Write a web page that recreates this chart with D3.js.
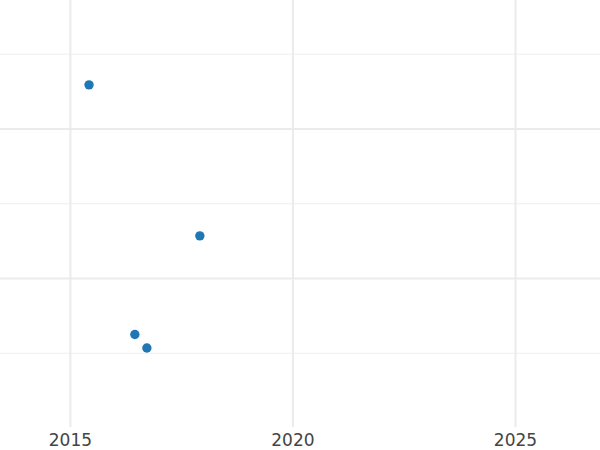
<!DOCTYPE html>
<html>
<head>
<meta charset="utf-8">
<script src="https://cdn.jsdelivr.net/npm/d3@7"></script>
<style>
  body { margin: 0; background: #fff; }
  svg { display: block; font-family: "DejaVu Sans", sans-serif; }
</style>
</head>
<body>
<div id="chart"></div>
<script>
// data (y axis has no labels, so units are arbitrary)
var years = [2015.43, 2017.92, 2016.46, 2016.73];
var values = [4.59, 2.57, 1.25, 1.07];
var xTicks = [2015, 2020, 2025];
var yMajor = [2, 4];
var yMinor = [1, 3, 5];

var width = 600, height = 450;
var svg = d3.select("#chart").append("svg")
    .attr("width", width)
    .attr("height", height);

var x = d3.scaleLinear().domain([2013.43, 2026.91]).range([0, 600]);
var y = d3.scaleLinear().domain([0, 5.725]).range([428, 0]);

// horizontal grid
svg.append("g").selectAll("line")
    .data(yMinor)
    .join("line")
    .attr("x1", 0).attr("x2", width)
    .attr("y1", d => y(d)).attr("y2", d => y(d))
    .attr("stroke", "#eeeeee")
    .attr("stroke-width", 1);

svg.append("g").selectAll("line")
    .data(yMajor)
    .join("line")
    .attr("x1", 0).attr("x2", width)
    .attr("y1", d => y(d)).attr("y2", d => y(d))
    .attr("stroke", "#ebebeb")
    .attr("stroke-width", 2);

// vertical grid + tick labels
var xAxis = d3.axisBottom(x).tickValues(xTicks).tickFormat(d3.format("d"))
    .tickSize(-428).tickPadding(7);
var gx = svg.append("g")
    .attr("transform", "translate(0,427)")
    .call(xAxis);
gx.select(".domain").remove();
gx.selectAll(".tick line")
    .attr("stroke", "#ebebeb")
    .attr("stroke-width", 2);
gx.selectAll(".tick text")
    .attr("fill", "#444")
    .attr("font-size", 17)
    .attr("font-family", "DejaVu Sans, sans-serif");

// points
svg.append("g").selectAll("circle")
    .data(years)
    .join("circle")
    .attr("cx", d => x(d))
    .attr("cy", (d, i) => y(values[i]))
    .attr("r", 4.7)
    .attr("fill", "#1f77b4");
</script>
</body>
</html>
